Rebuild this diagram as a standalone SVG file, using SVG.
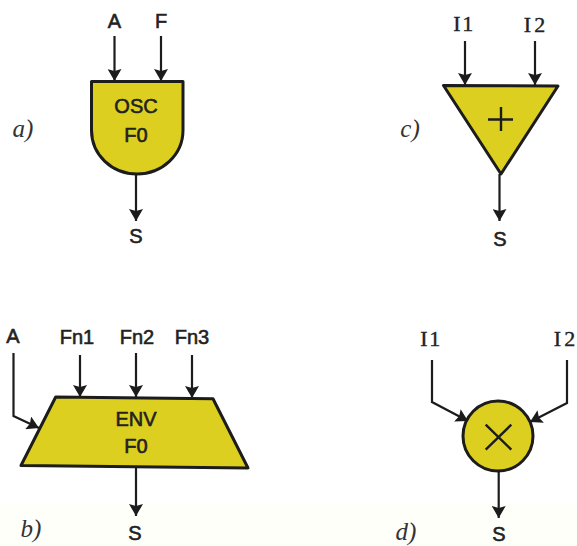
<svg xmlns="http://www.w3.org/2000/svg" width="577" height="546" viewBox="0 0 577 546">
<defs>
<marker id="ah" viewBox="0 0 12 14" refX="12" refY="7" markerWidth="12" markerHeight="14" markerUnits="userSpaceOnUse" orient="auto"><path d="M0 0L12 7L0 14L2 7Z" fill="#1c1c1c"/></marker>
</defs>
<style>
.s{fill:#ddcf20;stroke:#1c1c1c;stroke-width:3;stroke-linejoin:round}
.c{fill:none;stroke:#1c1c1c;stroke-width:2.2;marker-end:url(#ah)}
.t{font-family:"Liberation Sans",Arial,sans-serif;font-size:20px;fill:#222;text-anchor:middle;stroke:#222;stroke-width:.6}
.m{font-family:"Liberation Serif","Times New Roman",serif;font-size:22px;fill:#222;text-anchor:middle;stroke:#222;stroke-width:.4;letter-spacing:1.500px}
.l{font-family:"Liberation Serif","Times New Roman",serif;font-style:italic;font-size:25px;fill:#333;text-anchor:middle}
.g{fill:none;stroke:#1c1c1c;stroke-width:2.4}
</style>
<rect width="577" height="546" fill="#fff"/>
<rect y="503" width="577" height="43" fill="#fffffa"/>
<g id="connectors">
<path class="c" d="M114.500 36V81"/>
<path class="c" d="M161 36V81"/>
<path class="c" d="M136 174V221"/>
<path class="c" d="M465 41V85"/>
<path class="c" d="M535 41V85"/>
<path class="c" d="M499.500 174V221"/>
<path class="c" d="M13.500 353V416L39 428"/>
<path class="c" d="M80 355V397"/>
<path class="c" d="M136 353V397"/>
<path class="c" d="M192 355V398"/>
<path class="c" d="M136 467V516"/>
<path class="c" d="M432 360V402L468 421"/>
<path class="c" d="M567 360V403L530 422"/>
<path class="c" d="M498.700 471V518"/>
</g>
<g id="osc">
<path class="s" d="M91.500 81.500H183V130C183 155 162 174 137 174C112 174 91.500 155 91.500 130Z"/>
<text class="t" x="136" y="113">OSC</text>
<text class="t" x="136" y="142">F0</text>
</g>
<g id="adder">
<path class="s" d="M443.500 85.500L558 86L501 174Z"/>
<path class="g" d="M488 119.500H513M501 107V131"/>
</g>
<g id="env">
<path class="s" d="M55.700 397L213 398.700L248 468L21 465.500Z"/>
<text class="t" x="136" y="426">ENV</text>
<text class="t" x="136" y="453">F0</text>
</g>
<g id="multiplier">
<circle class="s" cx="498" cy="436" r="35"/>
<path class="g" d="M485.700 424.700L511.300 449.700M511.300 424.700L485.700 449.700"/>
</g>
<g id="labels">
<text class="t" x="114.500" y="28">A</text>
<text class="t" x="161" y="28">F</text>
<text class="t" x="136" y="243">S</text>
<text class="m" x="464" y="31">I1</text>
<text class="m" x="536" y="32" style="letter-spacing:3px">I2</text>
<text class="t" x="500" y="246">S</text>
<text class="t" x="13" y="343">A</text>
<text class="t" x="77" y="344">Fn1</text>
<text class="t" x="137" y="344">Fn2</text>
<text class="t" x="192" y="344">Fn3</text>
<text class="t" x="135" y="540">S</text>
<text class="m" x="431" y="346">I1</text>
<text class="m" x="566" y="346" style="letter-spacing:3px">I2</text>
<text class="t" x="499" y="541">S</text>
<text class="l" x="23" y="137">a)</text>
<text class="l" x="410" y="137">c)</text>
<text class="l" x="31" y="537">b)</text>
<text class="l" x="406" y="540">d)</text>
</g>
</svg>
